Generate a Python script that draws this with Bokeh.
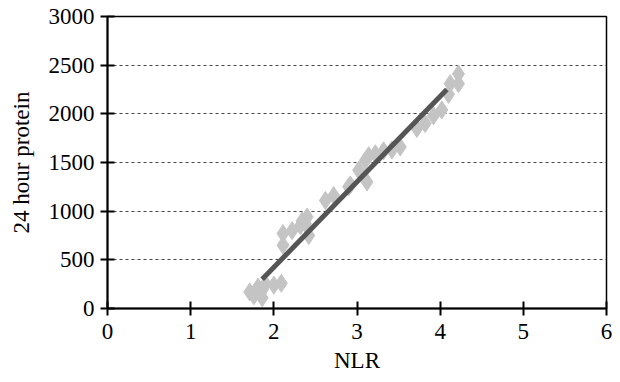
from bokeh.plotting import figure
from bokeh.models import ColumnDataSource, FixedTicker, Range1d
from bokeh.embed import file_html
from bokeh.resources import INLINE

# data
nlr = [1.71, 1.76, 1.81, 1.86, 1.86, 1.90, 2.00, 2.09, 2.11, 2.11, 2.22, 2.32,
       2.34, 2.38, 2.40, 2.42, 2.62, 2.72, 2.90, 2.92, 3.02, 3.10, 3.12, 3.14,
       3.22, 3.32, 3.42, 3.52, 3.72, 3.82, 3.92, 4.02, 4.10, 4.12, 4.22, 4.22]
protein = [170, 130, 220, 110, 190, 250, 240, 260, 650, 770, 800, 850,
           900, 870, 940, 750, 1110, 1160, 1250, 1270, 1420, 1520, 1300, 1570,
           1590, 1620, 1630, 1660, 1850, 1900, 1980, 2040, 2200, 2310, 2410, 2310]
trend_x = [1.86, 4.08]
trend_y = [300, 2250]
x_ticks = [0, 1, 2, 3, 4, 5, 6]
y_ticks = [0, 500, 1000, 1500, 2000, 2500, 3000]

FONT = "Liberation Serif"

p = figure(width=612, height=382, output_backend="svg", toolbar_location=None,
           x_range=Range1d(0, 6), y_range=Range1d(0, 3000),
           min_border_left=107, min_border_right=6, min_border_top=16,
           min_border_bottom=74)

p.background_fill_color = "white"
p.border_fill_color = "white"
p.outline_line_color = "black"
p.outline_line_width = 1.5

p.xgrid.grid_line_color = None
p.ygrid.grid_line_color = "#444444"
p.ygrid.grid_line_dash = "3 3"
p.ygrid.grid_line_width = 1

for ax in (p.xaxis[0], p.yaxis[0]):
    ax.axis_line_color = "black"
    ax.axis_line_width = 2
    ax.major_tick_line_color = "black"
    ax.major_tick_line_width = 2
    ax.major_tick_in = 7
    ax.major_tick_out = 7
    ax.minor_tick_line_color = None
    ax.major_label_text_font = FONT
    ax.major_label_text_font_size = "23px"
    ax.major_label_text_color = "black"
    ax.axis_label_text_font = FONT
    ax.axis_label_text_font_size = "23px"
    ax.axis_label_text_font_style = "normal"
    ax.axis_label_text_color = "black"

p.xaxis.ticker = FixedTicker(ticks=x_ticks)
p.yaxis.ticker = FixedTicker(ticks=y_ticks)
p.ygrid.ticker = FixedTicker(ticks=y_ticks[1:-1])
p.xaxis.axis_label = "NLR"
p.yaxis.axis_label = "24 hour protein"
p.xaxis.major_label_standoff = 8
p.yaxis.major_label_standoff = 6
p.xaxis.axis_label_standoff = 6
p.yaxis.axis_label_standoff = 12

src = ColumnDataSource(dict(x=nlr, y=protein))
p.scatter("x", "y", source=src, marker="diamond", size=18,
          fill_color="#c4c4c4", line_color="#c4c4c4")
p.line(trend_x, trend_y, line_color="#555555", line_width=5)

open("out.html", "w").write(file_html(p, INLINE))
